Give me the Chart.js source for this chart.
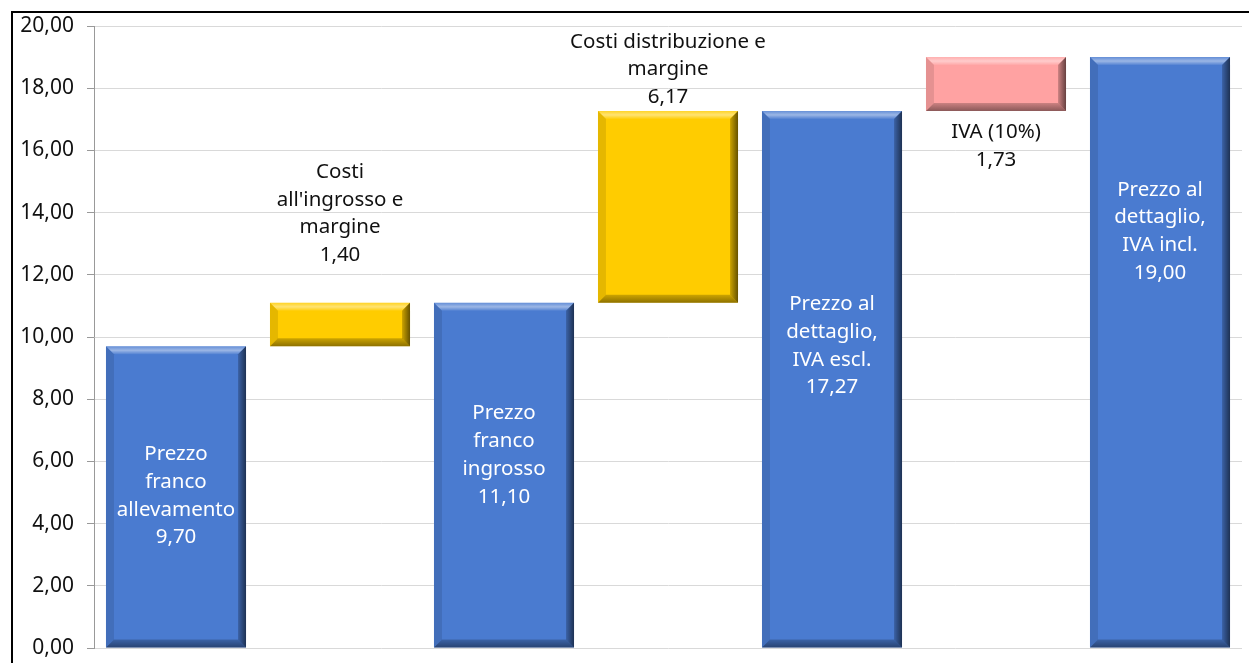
<!DOCTYPE html>
<html>
<head>
<meta charset="utf-8">
<script src="https://cdn.jsdelivr.net/npm/chart.js@4/dist/chart.umd.min.js"></script>
<style>
  body { margin: 0; background: #fff; }
  #wrap { position: relative; width: 1249px; height: 663px; overflow: hidden; }
  #frame { position: absolute; left: 11px; top: 11px; width: 1250px; height: 700px; border: 2px solid #000; box-sizing: border-box; }
  canvas { position: absolute; left: 0; top: 0; }
</style>
</head>
<body>
<div id="wrap">
  <div id="frame"></div>
  <canvas id="chart" width="1249" height="663"></canvas>
</div>
<script>
const categories = ['Prezzo franco allevamento', "Costi all'ingrosso e margine", 'Prezzo franco ingrosso',
    'Costi distribuzione e margine', 'Prezzo al dettaglio, IVA escl.', 'IVA (10%)', 'Prezzo al dettaglio, IVA incl.'];
const barStart = [0, 9.70, 0, 11.10, 0, 17.27, 0];
const barEnd = [9.70, 11.10, 11.10, 17.27, 17.27, 19.00, 19.00];
const barValues = [9.70, 1.40, 11.10, 6.17, 17.27, 1.73, 19.00];
const labelLines = [
    ['Prezzo', 'franco', 'allevamento'],
    ['Costi', "all'ingrosso e", 'margine'],
    ['Prezzo', 'franco', 'ingrosso'],
    ['Costi distribuzione e', 'margine'],
    ['Prezzo al', 'dettaglio,', 'IVA escl.'],
    ['IVA (10%)'],
    ['Prezzo al', 'dettaglio,', 'IVA incl.']
];
// centre of each label block, in axis units
const labelAnchor = [4.89, 13.97, 6.2, 18.6, 9.71, 16.14, 13.4];
const yTicks = [0, 2, 4, 6, 8, 10, 12, 14, 16, 18, 20];

const BLUE = '#4a7bd0', YELLOW = '#ffcc00', PINK = '#ffa2a2';
const colors = [BLUE, YELLOW, BLUE, YELLOW, BLUE, PINK, BLUE];
const textColors = ['#fff', '#111', '#fff', '#111', '#fff', '#111', '#fff'];
const FONT = '"Noto Sans", "DejaVu Sans", sans-serif';

function fmt(v){ return v.toFixed(2).replace('.', ','); }

// bevel look like the office chart
const bevel = {
    id: 'bevel',
    afterDatasetsDraw(chart){
        const ctx = chart.ctx;
        const meta = chart.getDatasetMeta(0);
        meta.data.forEach((bar) => {
            const l = bar.x - bar.width / 2, r = bar.x + bar.width / 2;
            const t = Math.min(bar.y, bar.base), b = Math.max(bar.y, bar.base);
            const d = Math.min(8, (b - t) / 3);
            ctx.save();
            // top
            const gt = ctx.createLinearGradient(0, t, 0, t + d);
            gt.addColorStop(0, 'rgba(255,255,255,0.15)');
            gt.addColorStop(0.5, 'rgba(255,255,255,0.45)');
            gt.addColorStop(1, 'rgba(255,255,255,0.05)');
            ctx.fillStyle = gt;
            ctx.beginPath(); ctx.moveTo(l, t); ctx.lineTo(r, t); ctx.lineTo(r - d, t + d); ctx.lineTo(l + d, t + d); ctx.fill();
            // left
            ctx.fillStyle = 'rgba(0,0,0,0.1)';
            ctx.beginPath(); ctx.moveTo(l, t); ctx.lineTo(l + d, t + d); ctx.lineTo(l + d, b - d); ctx.lineTo(l, b); ctx.fill();
            // right
            const g = ctx.createLinearGradient(r - d, 0, r, 0);
            g.addColorStop(0, 'rgba(0,0,0,0.2)');
            g.addColorStop(1, 'rgba(0,0,0,0.6)');
            ctx.fillStyle = g;
            ctx.beginPath(); ctx.moveTo(r, t); ctx.lineTo(r, b); ctx.lineTo(r - d, b - d); ctx.lineTo(r - d, t + d); ctx.fill();
            // bottom
            const gb = ctx.createLinearGradient(0, b - d, 0, b);
            gb.addColorStop(0, 'rgba(0,0,0,0.2)');
            gb.addColorStop(1, 'rgba(0,0,0,0.45)');
            ctx.fillStyle = gb;
            ctx.beginPath(); ctx.moveTo(l, b); ctx.lineTo(r, b); ctx.lineTo(r - d, b - d); ctx.lineTo(l + d, b - d); ctx.fill();
            ctx.restore();
        });
    }
};

const barLabels = {
    id: 'barLabels',
    afterDatasetsDraw(chart){
        const ctx = chart.ctx;
        const meta = chart.getDatasetMeta(0);
        const y = chart.scales.y;
        const lh = 27.7;
        ctx.save();
        ctx.font = '20.5px ' + FONT;
        ctx.textAlign = 'center';
        ctx.textBaseline = 'middle';
        meta.data.forEach((bar, i) => {
            const lines = labelLines[i].concat([fmt(barValues[i])]);
            const cy = y.getPixelForValue(labelAnchor[i]);
            const top = cy - (lines.length - 1) * lh / 2;
            ctx.fillStyle = textColors[i];
            lines.forEach((s, k) => ctx.fillText(s, bar.x, top + k * lh));
        });
        ctx.restore();
    }
};

new Chart(document.getElementById('chart'), {
    type: 'bar',
    data: {
        labels: categories,
        datasets: [{
            data: barStart.map((s, i) => [s, barEnd[i]]),
            backgroundColor: colors,
            borderWidth: 0,
            barPercentage: 1,
            categoryPercentage: 0.854
        }]
    },
    options: {
        responsive: false,
        animation: false,
        layout: { padding: { top: 26, bottom: 15, right: 7, left: 0 } },
        plugins: { legend: { display: false }, tooltip: { enabled: false } },
        scales: {
            x: { display: false },
            y: {
                min: 0,
                max: 20,
                afterFit(s){ s.width = 94; s.paddingTop = 0; s.paddingBottom = 0; },
                afterBuildTicks(s){ s.ticks = yTicks.map(v => ({ value: v })); },
                ticks: {
                    color: '#111',
                    padding: 13,
                    font: { family: FONT, size: 21 },
                    callback: (v) => fmt(v)
                },
                grid: { color: '#d9d9d9', tickColor: '#999', tickLength: 7, lineWidth: 1 },
                border: { color: '#999', width: 1 }
            }
        }
    },
    plugins: [bevel, barLabels]
});
</script>
</body>
</html>
